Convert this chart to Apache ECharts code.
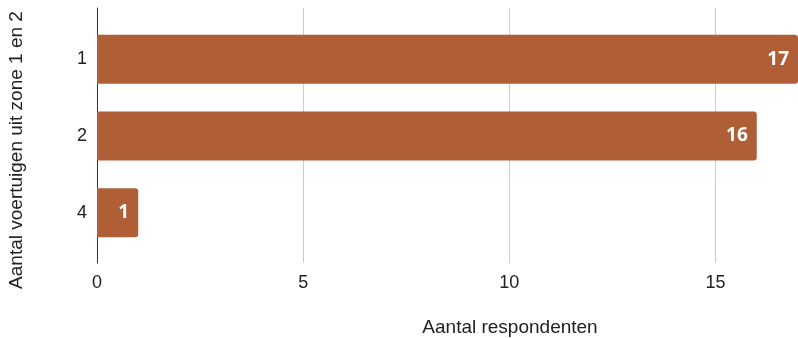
<!DOCTYPE html>
<html>
<head>
<meta charset="utf-8">
<script src="https://cdn.jsdelivr.net/npm/echarts@6/dist/echarts.min.js"></script>
<style>
	html, body { margin: 0; padding: 0; background: #fff; }
	#chart { width: 798px; height: 338px; }
</style>
</head>
<body>
<div id="chart"></div>
<script type="text/javascript">
	// categorieën (van boven naar beneden) en aantallen
	var categories = ['1', '2', '4'];
	var counts = [17, 16, 1];
	var xTicksMax = 17;

	var axisFont = 'Liberation Sans, Arial, sans-serif';
	var myChart = echarts.init(document.getElementById('chart'));
	var option = {
		animation: false,
		backgroundColor: '#ffffff',
		grid: [
			// raster + assen
			{ left: 97, right: -3, top: 8, bottom: 75 },
			// staven
			{ left: 97, right: -3, top: 21, bottom: 87 }
		],
		xAxis: [
			{
				gridIndex: 0,
				type: 'value',
				min: 0,
				max: xTicksMax,
				interval: 5,
				axisLine: { show: false },
				axisTick: { show: false },
				splitLine: { show: true, lineStyle: { color: '#cccccc', width: 1 } },
				axisLabel: { showMaxLabel: false, color: '#222', fontSize: 18, fontFamily: axisFont, margin: 11 }
			},
			{
				gridIndex: 1,
				type: 'value',
				min: 0,
				max: xTicksMax,
				show: false
			}
		],
		yAxis: [
			{
				gridIndex: 0,
				type: 'value',
				min: 0,
				max: 1,
				axisLine: { show: true, lineStyle: { color: '#333', width: 1 } },
				axisTick: { show: false },
				axisLabel: { show: false },
				splitLine: { show: false }
			},
			{
				gridIndex: 1,
				type: 'category',
				data: categories,
				inverse: true,
				axisLine: { show: false },
				axisTick: { show: false },
				axisLabel: { color: '#222', fontSize: 18, fontFamily: axisFont, margin: 10 }
			}
		],
		series: [
			{
				type: 'bar',
				xAxisIndex: 1,
				yAxisIndex: 1,
				data: counts,
				barWidth: 49,
				itemStyle: { color: '#b05e36', borderRadius: [0, 3, 3, 0] },
				label: {
					show: true,
					position: 'insideRight',
					distance: 9,
					color: '#ffffff',
					fontWeight: 'bold',
					fontSize: 19,
					fontFamily: 'Open Sans, sans-serif'
				}
			}
		],
		graphic: [
			{
				type: 'text',
				x: 510,
				y: 328,
				style: {
					text: 'Aantal respondenten',
					fill: '#222',
					font: '19px Liberation Sans, Arial, sans-serif',
					textAlign: 'center',
					textVerticalAlign: 'middle'
				}
			},
			{
				type: 'text',
				x: 17,
				y: 150,
				rotation: Math.PI / 2,
				style: {
					text: 'Aantal voertuigen uit zone 1 en 2',
					fill: '#222',
					font: '19px Liberation Sans, Arial, sans-serif',
					textAlign: 'center',
					textVerticalAlign: 'middle'
				}
			}
		]
	};
	myChart.setOption(option);
</script>
</body>
</html>
